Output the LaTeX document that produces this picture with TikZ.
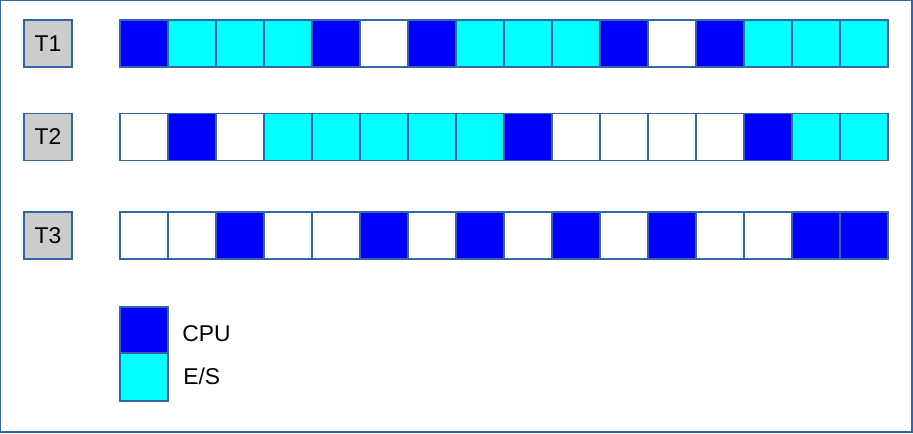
\documentclass[tikz,border=0pt]{standalone}
\usepackage{fontspec}
\setmainfont{Liberation Sans}

\definecolor{cpucol}{RGB}{0,0,255}
\definecolor{escol}{RGB}{0,255,255}
\definecolor{edgecol}{HTML}{3465A4}
\definecolor{labcol}{RGB}{204,204,204}

\tikzset{
  cell/.style={draw=edgecol, line width=0.6pt, minimum width=0.96cm,
    minimum height=0.94cm, inner sep=0pt},
  b/.style={fill=cpucol},
  c/.style={fill=escol},
  w/.style={fill=white},
  tlabel/.style={cell, fill=labcol, font=\fontsize{13}{15}\selectfont}
}

\begin{document}
\begin{tikzpicture}[x=0.02cm, y=-0.02cm]

  % Frame
  \useasboundingbox (0,0) rectangle (913,433);
  \draw[edgecol, line width=0.6pt] (0.5,0.5) rectangle (912,432);

  % Row labels
  \node[tlabel] (T1) at (48,43.5) {T1};
  \node[tlabel] (T2) at (48,137) {T2};
  \node[tlabel] (T3) at (48,235.5) {T3};

  % Task T1
  \foreach \st [count=\i] in {b,c,c,c,b,w,b,c,c,c,b,w,b,c,c,c} {
    \node[cell,\st] (t1-\i) at (96+48*\i, 43.5) {};
  }

  % Task T2
  \foreach \st [count=\i] in {w,b,w,c,c,c,c,c,b,w,w,w,w,b,c,c} {
    \node[cell,\st] (t2-\i) at (96+48*\i, 137) {};
  }

  % Task T3
  \foreach \st [count=\i] in {w,w,b,w,w,b,w,b,w,b,w,b,w,w,b,b} {
    \node[cell,\st] (t3-\i) at (96+48*\i, 235.5) {};
  }

  % Legend
  \node[cell,b,minimum height=0.92cm] (cpubox) at (144,330) {};
  \node[cell,c,minimum height=0.96cm] (esbox) at (144,377) {};
  \node[anchor=base west, inner sep=0pt, font=\fontsize{13}{15}\selectfont]
    (cpulab) at (182,341) {CPU};
  \node[anchor=base west, inner sep=0pt, font=\fontsize{13}{15}\selectfont]
    (eslab) at (183,384) {E/S};

\end{tikzpicture}
\end{document}
